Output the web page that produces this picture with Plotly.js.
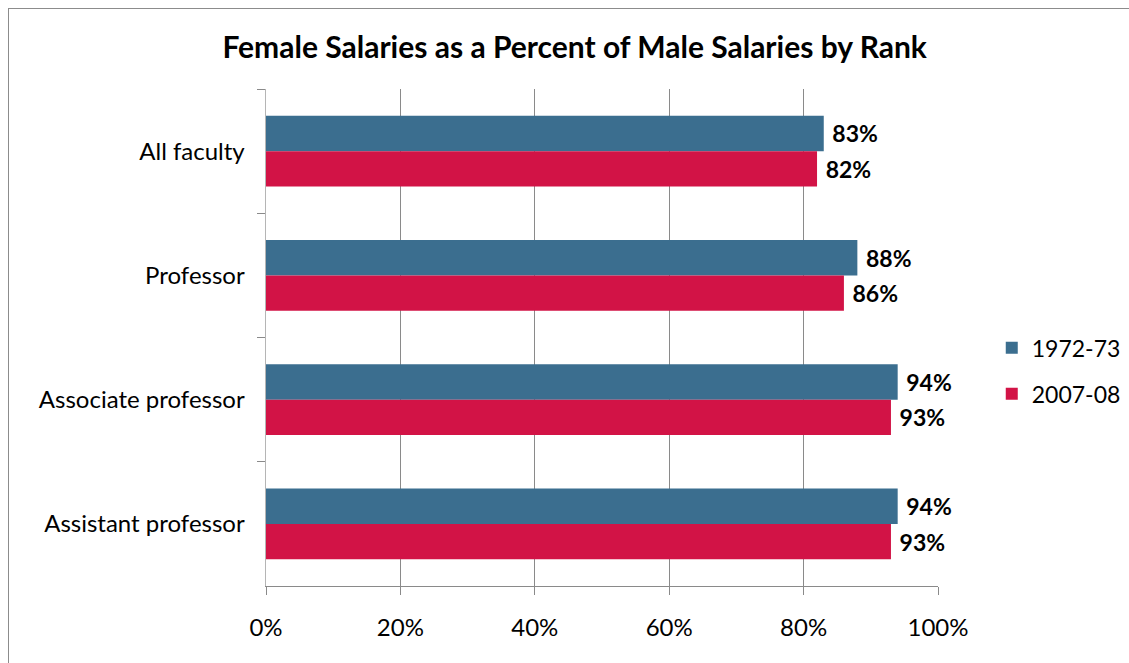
<!DOCTYPE html>
<html>
<head>
<meta charset="utf-8">
<script src="https://cdn.plot.ly/plotly-3.0.1.min.js"></script>
<style>
  html, body { margin: 0; padding: 0; background: #fff; }
  #wrap { position: relative; width: 1129px; height: 663px; }
  #chart { width: 1129px; height: 663px; }
  #frame { position: absolute; left: 8px; top: 8px; width: 1140px; height: 700px; border: 1px solid #8c8c8c; pointer-events: none; box-sizing: border-box; }
</style>
</head>
<body>
<div id="wrap">
  <div id="chart"></div>
  <div id="frame"></div>
</div>
<script>
const categories = ["All faculty", "Professor", "Associate professor", "Assistant professor"];
const series1Name = "1972-73";
const series1Values = [0.83, 0.88, 0.94, 0.94];
const series2Name = "2007-08";
const series2Values = [0.82, 0.86, 0.93, 0.93];
const xTickValues = [0, 0.2, 0.4, 0.6, 0.8, 1.0];
const xTickLabels = ["0%", "20%", "40%", "60%", "80%", "100%"];

const FONT = "Lato, 'Open Sans', sans-serif";
const pct = v => " " + Math.round(v * 100) + "%";

const traces = [
  {
    type: "bar", orientation: "h", name: series1Name,
    y: categories, x: series1Values,
    text: series1Values.map(pct), textposition: "outside",
    textfont: { family: FONT, size: 23, color: "#000", weight: "bold" },
    marker: { color: "#3B6E8F" },
    legendgroup: "a", cliponaxis: false, hoverinfo: "none"
  },
  {
    type: "bar", orientation: "h", name: series2Name,
    y: categories, x: series2Values,
    text: series2Values.map(pct), textposition: "outside",
    textfont: { family: FONT, size: 23, color: "#000", weight: "bold" },
    marker: { color: "#D21346" },
    legendgroup: "b", cliponaxis: false, hoverinfo: "none"
  }
];

const layout = {
  width: 1129, height: 663,
  margin: { l: 266, r: 191, t: 89, b: 77, autoexpand: false },
  paper_bgcolor: "#fff", plot_bgcolor: "#fff",
  font: { family: FONT, size: 24, color: "#000" },
  title: {
    text: "<b>Female Salaries as a Percent of Male Salaries by Rank</b>",
    font: { family: FONT, size: 30, color: "#000" },
    xref: "container", x: 0.509, xanchor: "center",
    yref: "container", y: 1 - 47 / 663, yanchor: "middle"
  },
  barmode: "group", bargap: 0.43, bargroupgap: 0,
  xaxis: {
    range: [0, 1], tickvals: xTickValues, ticktext: xTickLabels,
    showgrid: true, gridcolor: "#8a8a8a", gridwidth: 1,
    showline: true, linecolor: "#8a8a8a", linewidth: 1,
    ticks: "outside", ticklen: 8, tickcolor: "#8a8a8a",
    tickfont: { family: FONT, size: 24, color: "#000" },
    zeroline: false, fixedrange: true, ticklabelstandoff: 12, automargin: false
  },
  yaxis: {
    type: "category", autorange: "reversed",
    showline: true, linecolor: "#b5b5b5", linewidth: 1.5,
    ticks: "outside", ticklen: 8, tickcolor: "#8a8a8a", tickson: "boundaries",
    tickfont: { family: FONT, size: 24, color: "#000" },
    showgrid: false, zeroline: false, fixedrange: true, ticklabelstandoff: 15, automargin: false
  },
  legend: {
    x: 1.08, xanchor: "left", y: 0.433, yanchor: "middle",
    traceorder: "grouped", tracegroupgap: 13,
    font: { family: FONT, size: 23, color: "#000" },
    bgcolor: "rgba(0,0,0,0)"
  },
  showlegend: true
};

Plotly.newPlot("chart", traces, layout, { displayModeBar: false, staticPlot: true });
</script>
</body>
</html>
